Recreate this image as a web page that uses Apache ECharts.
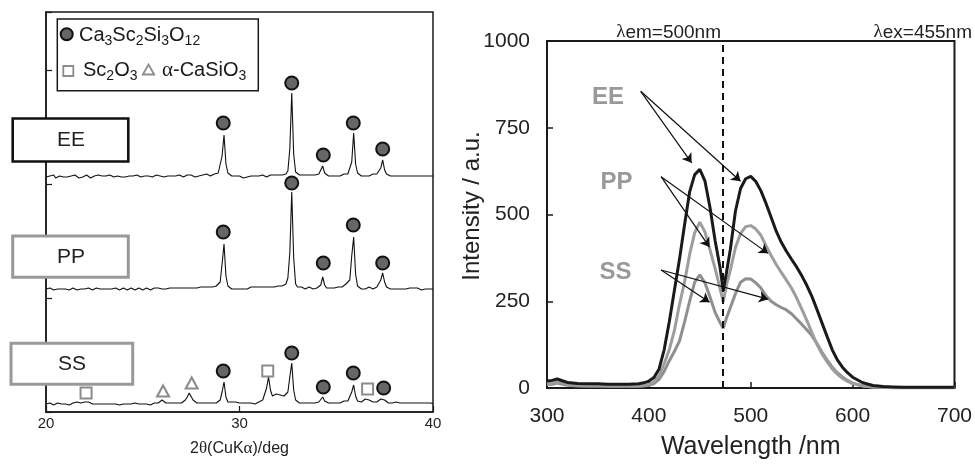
<!DOCTYPE html>
<html>
<head>
<meta charset="utf-8">
<script src="https://cdn.jsdelivr.net/npm/echarts@6/dist/echarts.min.js"></script>
<style>
  html, body { margin: 0; padding: 0; background: #fff; }
  #chart { width: 975px; height: 465px; }
</style>
</head>
<body>
<div id="chart"></div>
<script>
// ---------- XRD patterns (2θ from 20° to 40°, 0.1° step) ----------
const xrdStart = 20;
const xrdStep = 0.1;

const xrdEE = [
  7,6,8,7,9,6,7,8,6,7,
  8,7,6,8,7,9,7,6,8,7,
  7,9,8,6,7,8,7,9,7,8,
  6,8,7,9,8,7,6,8,9,7,
  8,7,9,8,6,8,7,9,8,7,
  9,8,7,8,10,7,8,9,7,8,
  8,7,9,8,7,8,9,8,7,9,
  8,7,8,9,8,9,8,7,9,8,
  8,9,8,10,9,8,9,10,9,11,
  13,28,49,20,11,9,8,9,8,7,
  8,7,6,8,7,6,8,7,8,7,
  8,7,9,8,7,8,9,8,9,8,
  9,10,9,11,10,13,35,91,30,12,
  10,9,8,9,8,9,10,9,8,9,
  9,10,11,18,11,9,8,9,8,9,
  8,9,8,9,10,9,10,12,22,51,
  20,11,9,8,9,8,9,8,9,10,
  9,10,11,16,24,14,10,9,8,9,
  8,9,8,7,8,9,8,7,8,9,
  8,7,8,9,8,7,8,9,8,7,8
];

const xrdPP = [
  9,8,10,9,8,10,9,11,9,8,
  9,10,8,9,10,9,8,10,9,8,
  9,8,10,9,8,9,10,8,9,10,
  9,8,9,10,9,8,10,9,8,9,
  10,9,8,9,10,9,8,9,10,9,
  8,9,10,9,8,9,10,9,10,9,
  9,10,9,8,10,9,10,9,10,11,
  10,9,10,11,10,9,10,11,10,10,
  11,10,11,10,11,12,11,10,12,13,
  16,34,54,22,12,10,9,10,9,10,
  9,10,9,10,9,10,11,10,11,10,
  11,10,11,10,11,12,11,12,11,12,
  12,13,12,13,14,20,45,106,40,14,
  11,10,11,10,9,10,11,10,9,10,
  10,11,13,21,13,10,9,10,11,10,
  10,11,10,11,12,14,16,18,42,61,
  24,12,10,9,10,9,10,11,10,9,
  10,11,13,18,25,16,11,10,9,10,
  9,10,9,10,9,10,9,8,10,9,
  10,9,10,9,8,10,9,10,9,10,9
];

const xrdSS = [
  8,7,9,8,7,8,9,7,8,9,
  8,9,7,8,9,8,10,8,9,8,
  10,12,10,9,8,9,8,9,8,7,
  8,9,8,7,8,9,8,8,7,9,
  8,7,8,9,8,7,9,8,8,7,
  8,9,8,8,7,8,9,8,9,10,
  12,10,9,8,9,8,9,10,9,10,
  9,10,12,15,19,17,12,10,9,10,
  9,10,9,10,9,8,9,10,9,10,
  12,20,30,15,10,9,10,9,10,10,
  9,10,9,8,9,10,9,9,8,10,
  10,11,12,14,24,35,22,16,17,18,
  18,17,18,16,15,20,35,49,22,12,
  10,9,10,9,10,9,8,9,10,9,
  9,10,11,15,11,10,9,10,9,10,
  9,10,9,10,11,10,11,13,20,27,
  16,11,10,10,11,13,15,12,10,10,
  9,10,11,13,15,12,10,9,10,9,
  9,10,8,9,10,9,8,9,10,9,
  8,9,10,9,8,9,10,9,8,9,8
];

// vertical stacking of the three patterns
const offsetEE = 228;
const offsetPP = 114;
const offsetSS = 0;

// phase markers [2θ, height above own pattern]
const garnetEE = [[29.16, 61], [32.70, 101], [34.33, 29], [35.88, 61], [37.40, 35]];
const garnetPP = [[29.16, 66], [32.70, 115], [34.33, 35], [35.88, 73], [37.40, 35]];
const garnetSS = [[29.16, 41], [32.70, 59], [34.33, 25], [35.88, 39], [37.45, 24]];
const scandiaSS = [[22.07, 19], [31.46, 41], [36.62, 23]];
const wollastoniteSS = [[26.05, 21], [27.53, 29]];

// ---------- excitation / emission spectra ----------
const wavelength = [300,305,310,315,320,330,340,350,360,370,380,390,395,400,405,410,415,420,425,430,
  435,440,445,450,455,460,465,470,473,476,480,485,490,495,500,505,510,515,520,525,530,535,540,545,550,
  555,560,565,570,575,580,585,590,595,600,610,620,630,640,650,660,680,700];

const plEE = [20,22,26,21,16,13,12,12,11,11,11,12,15,20,30,55,110,190,280,370,
  470,565,615,630,597,520,425,345,280,330,400,510,575,603,610,595,568,532,492,452,420,394,371,349,324,
  296,264,226,187,148,110,81,60,44,31,15,7,4,3,2,2,2,2];

const plPP = [13,14,17,14,10,8,7,7,6,6,6,6,7,10,18,35,70,110,165,240,
  305,385,448,478,450,398,345,285,248,295,340,405,445,465,468,458,440,410,382,356,333,311,288,260,228,
  195,160,126,98,75,55,40,28,19,13,6,3,2,1,1,1,1,1];

const plSS = [10,11,14,11,8,6,5,5,5,5,5,5,6,8,13,25,48,78,105,135,
  190,250,305,326,303,262,218,188,172,200,232,272,305,315,314,303,288,266,250,240,232,225,214,199,184,
  168,151,128,103,80,60,44,32,22,14,6,3,2,1,1,1,1,1];

const monitorWavelength = 473;

// pointer arrows [from, to] in (nm, intensity)
const arrowsEE = [[[392, 855], [442, 649]], [[392, 855], [490, 596]]];
const arrowsPP = [[[412, 609], [459.5, 406]], [[412, 609], [517, 388]]];
const arrowsSS = [[[412, 340], [459.5, 247]], [[412, 340], [517, 256]]];

// ---------- chart ----------
const FONT = '"Liberation Sans", Arial, sans-serif';
const GREEK = '"Liberation Serif", "Times New Roman", serif';
const INK = '#1a1a1a';
const GRAY = '#999999';

const xrdSeries = (vals, offset) =>
  vals.map((v, i) => [+(xrdStart + i * xrdStep).toFixed(2), v + offset]);
const shift = (pts, offset) => pts.map(p => [p[0], p[1] + offset]);
const plSeries = vals => wavelength.map((w, i) => [w, vals[i]]);
const arrowLines = list => list.map(a => [{ coord: a[0] }, { coord: a[1] }]);

const subRich = {
  m: { fontSize: 20, lineHeight: 26, fontFamily: FONT, fill: INK },
  s: { fontSize: 14, lineHeight: 14, fontFamily: FONT, fill: INK, verticalAlign: 'bottom' },
  g: { fontSize: 21, lineHeight: 26, fontFamily: GREEK, fill: INK }
};

const chart = echarts.init(document.getElementById('chart'), null, { renderer: 'canvas' });

chart.setOption({
  animation: false,
  backgroundColor: '#fff',
  textStyle: { fontFamily: FONT },
  grid: [
    { left: 46, top: 12, width: 387, height: 400, show: true, borderColor: INK, borderWidth: 1.5, backgroundColor: 'transparent' },
    { left: 547, top: 41, width: 412, height: 353.5, show: true, borderColor: INK, borderWidth: 2, backgroundColor: 'transparent' }
  ],
  xAxis: [
    {
      gridIndex: 0, type: 'value', min: 20, max: 40, interval: 10,
      axisLine: { show: true, lineStyle: { color: INK, width: 1.5 } },
      axisTick: { show: true, inside: true, length: 6, lineStyle: { color: INK, width: 1.2 } },
      axisLabel: { fontSize: 15, color: '#222', margin: 4, fontFamily: FONT },
      splitLine: { show: false },
      name: '2{g|θ}(CuK{g|α})/deg', nameLocation: 'middle', nameGap: 28,
      nameTextStyle: {
        fontSize: 16, color: '#222', fontFamily: FONT,
        rich: { g: { fontSize: 17, fontFamily: GREEK, color: '#222' } }
      }
    },
    {
      gridIndex: 1, type: 'value', min: 300, max: 700, interval: 100,
      axisLine: { show: true, lineStyle: { color: INK, width: 2 } },
      axisTick: { show: true, inside: true, length: 6, lineStyle: { color: INK, width: 1.5 } },
      axisLabel: { fontSize: 21, color: '#222', margin: 18, fontFamily: FONT },
      splitLine: { show: false },
      name: 'Wavelength /nm', nameLocation: 'middle', nameGap: 47,
      nameTextStyle: { fontSize: 25, color: '#222', fontFamily: FONT }
    }
  ],
  yAxis: [
    {
      gridIndex: 0, type: 'value', min: 0, max: 400, interval: 114,
      axisLine: { show: true, lineStyle: { color: INK, width: 1.5 } },
      axisTick: { show: true, inside: true, length: 6, lineStyle: { color: INK, width: 1.2 } },
      axisLabel: { show: false },
      splitLine: { show: false }
    },
    {
      gridIndex: 1, type: 'value', min: 0, max: 1000, interval: 250,
      axisLine: { show: true, lineStyle: { color: INK, width: 2 } },
      axisTick: { show: true, inside: true, length: 6, lineStyle: { color: INK, width: 1.5 } },
      axisLabel: { fontSize: 21, color: '#222', margin: 17, fontFamily: FONT, formatter: v => String(v) },
      splitLine: { show: false }
    }
  ],
  series: [
    // XRD traces
    { type: 'line', xAxisIndex: 0, yAxisIndex: 0, data: xrdSeries(xrdEE, offsetEE), symbol: 'none', silent: true,
      lineStyle: { color: '#111', width: 1.1 }, z: 3 },
    { type: 'line', xAxisIndex: 0, yAxisIndex: 0, data: xrdSeries(xrdPP, offsetPP), symbol: 'none', silent: true,
      lineStyle: { color: '#111', width: 1.1 }, z: 3 },
    { type: 'line', xAxisIndex: 0, yAxisIndex: 0, data: xrdSeries(xrdSS, offsetSS), symbol: 'none', silent: true,
      lineStyle: { color: '#111', width: 1.1 }, z: 3 },
    // phase markers
    { type: 'scatter', xAxisIndex: 0, yAxisIndex: 0, silent: true, z: 5,
      data: [...shift(garnetEE, offsetEE), ...shift(garnetPP, offsetPP), ...shift(garnetSS, offsetSS)],
      symbol: 'circle', symbolSize: 13,
      itemStyle: { color: '#666', borderColor: '#111', borderWidth: 2, opacity: 1 } },
    { type: 'scatter', xAxisIndex: 0, yAxisIndex: 0, silent: true, z: 5,
      data: shift(scandiaSS, offsetSS), symbol: 'rect', symbolSize: 11,
      itemStyle: { color: '#fff', borderColor: '#8c8c8c', borderWidth: 2, opacity: 1 } },
    { type: 'scatter', xAxisIndex: 0, yAxisIndex: 0, silent: true, z: 5,
      data: shift(wollastoniteSS, offsetSS), symbol: 'triangle', symbolSize: [12, 11],
      itemStyle: { color: '#fff', borderColor: '#8c8c8c', borderWidth: 2, opacity: 1 } },
    // PL spectra
    { type: 'line', xAxisIndex: 1, yAxisIndex: 1, data: plSeries(plSS), symbol: 'none', silent: true, z: 3,
      lineStyle: { color: '#8f8f8f', width: 3 },
      markLine: {
        silent: true, symbol: ['none', 'arrow'], symbolSize: 9, label: { show: false },
        lineStyle: { color: '#111', width: 1.2, type: 'solid' },
        data: [...arrowLines(arrowsEE), ...arrowLines(arrowsPP), ...arrowLines(arrowsSS)]
      } },
    { type: 'line', xAxisIndex: 1, yAxisIndex: 1, data: plSeries(plPP), symbol: 'none', silent: true, z: 3,
      lineStyle: { color: '#9d9d9d', width: 3 } },
    { type: 'line', xAxisIndex: 1, yAxisIndex: 1, data: plSeries(plEE), symbol: 'none', silent: true, z: 4,
      lineStyle: { color: INK, width: 3 },
      markLine: {
        silent: true, symbol: ['none', 'none'], label: { show: false },
        lineStyle: { color: '#111', width: 2, type: [7, 5] },
        data: [{ xAxis: monitorWavelength }]
      } }
  ],
  graphic: [
    // phase key
    { type: 'rect', z: 100, shape: { x: 57.3, y: 19, width: 201, height: 71.7 },
      style: { fill: '#fff', stroke: INK, lineWidth: 1.5 } },
    { type: 'circle', z: 101, shape: { cx: 66.7, cy: 34.3, r: 6 },
      style: { fill: '#666', stroke: '#111', lineWidth: 2 } },
    { type: 'text', z: 101, x: 79, y: 35.5,
      style: { text: '{m|Ca}{s|3}{m|Sc}{s|2}{m|Si}{s|3}{m|O}{s|12}', rich: subRich,
        textAlign: 'left', textVerticalAlign: 'middle' } },
    { type: 'rect', z: 101, shape: { x: 63.3, y: 66, width: 10, height: 10 },
      style: { fill: '#fff', stroke: '#8c8c8c', lineWidth: 1.8 } },
    { type: 'text', z: 101, x: 83, y: 70.5,
      style: { text: '{m|Sc}{s|2}{m|O}{s|3}', rich: subRich, textAlign: 'left', textVerticalAlign: 'middle' } },
    { type: 'polygon', z: 101, shape: { points: [[148.5, 64.5], [154.2, 74.5], [142.8, 74.5]] },
      style: { fill: '#fff', stroke: '#8c8c8c', lineWidth: 1.8 } },
    { type: 'text', z: 101, x: 162, y: 70.5,
      style: { text: '{g|α}{m|-CaSiO}{s|3}', rich: subRich, textAlign: 'left', textVerticalAlign: 'middle' } },

    // sample tags
    { type: 'rect', z: 100, shape: { x: 12.7, y: 118.5, width: 115.6, height: 43 },
      style: { fill: '#fff', stroke: '#111', lineWidth: 2.6 } },
    { type: 'text', z: 101, x: 71, y: 140.5,
      style: { text: 'EE', fontSize: 21, fontFamily: FONT, fill: '#222', textAlign: 'center', textVerticalAlign: 'middle' } },
    { type: 'rect', z: 100, shape: { x: 12.7, y: 236, width: 115.6, height: 41.3 },
      style: { fill: '#fff', stroke: GRAY, lineWidth: 3 } },
    { type: 'text', z: 101, x: 71, y: 257,
      style: { text: 'PP', fontSize: 21, fontFamily: FONT, fill: '#222', textAlign: 'center', textVerticalAlign: 'middle' } },
    { type: 'rect', z: 100, shape: { x: 11, y: 343.3, width: 121.7, height: 41 },
      style: { fill: '#fff', stroke: GRAY, lineWidth: 3 } },
    { type: 'text', z: 101, x: 72, y: 364.5,
      style: { text: 'SS', fontSize: 21, fontFamily: FONT, fill: '#222', textAlign: 'center', textVerticalAlign: 'middle' } },

    // spectra annotations
    { type: 'text', z: 101, x: 472, y: 206, rotation: Math.PI / 2,
      style: { text: 'Intensity / a.u.', fontSize: 24, fontFamily: FONT, fill: '#222', textAlign: 'center', textVerticalAlign: 'middle' } },
    { type: 'text', z: 101, x: 668.6, y: 32.5,
      style: { text: '{l|λ}em=500nm', fontSize: 19, fontFamily: FONT, fill: '#222',
        rich: { l: { fontSize: 19, fontFamily: GREEK, fill: '#222' } },
        textAlign: 'center', textVerticalAlign: 'middle' } },
    { type: 'text', z: 101, x: 972, y: 32.5,
      style: { text: '{l|λ}ex=455nm', fontSize: 19, fontFamily: FONT, fill: '#222',
        rich: { l: { fontSize: 19, fontFamily: GREEK, fill: '#222' } },
        textAlign: 'right', textVerticalAlign: 'middle' } },
    { type: 'text', z: 101, x: 608, y: 97,
      style: { text: 'EE', fontSize: 24, fontWeight: 'bold', fontFamily: FONT, fill: GRAY, textAlign: 'center', textVerticalAlign: 'middle' } },
    { type: 'text', z: 101, x: 616.5, y: 182,
      style: { text: 'PP', fontSize: 24, fontWeight: 'bold', fontFamily: FONT, fill: GRAY, textAlign: 'center', textVerticalAlign: 'middle' } },
    { type: 'text', z: 101, x: 615.5, y: 272.5,
      style: { text: 'SS', fontSize: 24, fontWeight: 'bold', fontFamily: FONT, fill: GRAY, textAlign: 'center', textVerticalAlign: 'middle' } }
  ]
});
</script>
</body>
</html>
